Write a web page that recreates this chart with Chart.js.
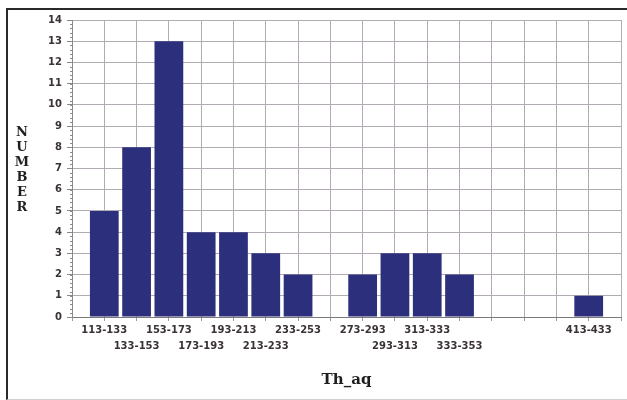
<!DOCTYPE html>
<html>
<head>
<meta charset="utf-8">
<script src="https://cdn.jsdelivr.net/npm/chart.js@4/dist/chart.umd.min.js"></script>
<style>
  html, body { margin: 0; padding: 0; background: #fff; }
  #wrap { position: relative; width: 627px; height: 400px; overflow: hidden; }
  #frame { position: absolute; left: 6px; top: 8px; width: 700px; height: 389px;
           border-top: 2px solid #2a2a2a; border-left: 2px solid #2a2a2a;
           border-bottom: 1px solid #cfcfcf; pointer-events: none; }
  canvas { position: absolute; left: 0; top: 0; }
</style>
</head>
<body>
<div id="wrap">
  <canvas id="c" width="627" height="400"></canvas>
  <div id="frame"></div>
</div>
<script>
// Th_aq class intervals and how many samples fall in each
const binRanges = ['113-133','133-153','153-173','173-193','193-213','213-233','233-253','253-273',
                   '273-293','293-313','313-333','333-353','353-373','373-393','393-413','413-433'];
const counts    = [5, 8, 13, 4, 4, 3, 2, 0, 2, 3, 3, 2, 0, 0, 0, 1];
// which text row each interval label sits on (0 = label not printed)
const labelRow  = [1, 2, 1, 2, 1, 2, 1, 0, 1, 2, 1, 2, 0, 0, 0, 1];
const yTicks    = { min: 0, max: 14, step: 1 };

const xTitle = 'Th_aq';
const yTitle = 'NUMBER';

// one empty slot on each side so the bins sit one grid step inside the frame
const labels = [''].concat(binRanges, ['']);
const values = [null].concat(counts, [null]);
const rows   = [0].concat(labelRow, [0]);

const tickFont = { family: 'DejaVu Sans', size: 10, weight: 'bold', lineHeight: 1.6 };
const gridColor = '#b3abb4';

// vertical axis title, one letter under another, plus the fine ticks on the value axis
const decorations = {
  id: 'decorations',
  afterDraw(chart) {
    const ctx = chart.ctx;
    const y = chart.scales.y;
    ctx.save();
    ctx.strokeStyle = '#8a8a8a';
    ctx.lineWidth = 1;
    for (let v = yTicks.min; v <= yTicks.max + 1e-9; v += 0.2) {
      const py = Math.round(y.getPixelForValue(v)) + 0.5;
      ctx.beginPath();
      ctx.moveTo(y.right - 2, py);
      ctx.lineTo(y.right, py);
      ctx.stroke();
    }
    ctx.fillStyle = '#1e1e1e';
    ctx.font = 'bold 13px "DejaVu Serif"';
    ctx.textAlign = 'center';
    ctx.textBaseline = 'middle';
    const letters = yTitle.split('');
    letters.forEach((ch, i) => ctx.fillText(ch, 22, 133 + i * 15));
    ctx.restore();
  }
};

new Chart(document.getElementById('c'), {
  type: 'bar',
  data: {
    labels: labels,
    datasets: [{
      data: values,
      backgroundColor: '#2c2f7c',
      borderWidth: 0,
      categoryPercentage: 1,
      barPercentage: 0.89
    }]
  },
  options: {
    responsive: false,
    devicePixelRatio: 1,
    animation: false,
    layout: { padding: { left: 0, right: 6, top: 20, bottom: 0 } },
    plugins: { legend: { display: false }, tooltip: { enabled: false } },
    scales: {
      x: {
        type: 'category',
        offset: false,
        grid: { offset: false, color: gridColor, tickLength: 4, tickColor: '#9a9a9a' },
        border: { color: '#7a7a7a', width: 1 },
        ticks: {
          autoSkip: false,
          maxRotation: 0,
          padding: 1,
          color: '#3a3333',
          font: tickFont,
          callback: function (val, i) {
            const r = rows[i];
            if (r === 1) return [labels[i]];
            if (r === 2) return ['', labels[i]];
            return '';
          }
        },
        title: {
          display: true,
          text: xTitle,
          color: '#1e1e1e',
          font: { family: 'DejaVu Serif', size: 15, weight: 'bold' },
          padding: { top: 0, bottom: 11 }
        },
        afterFit: s => { s.height = 83; }
      },
      y: {
        min: yTicks.min,
        max: yTicks.max,
        grid: { color: gridColor, tickLength: 5, tickColor: '#8a8a8a' },
        border: { color: '#8a8a8a', width: 1 },
        ticks: {
          stepSize: yTicks.step,
          padding: 5,
          color: '#3a3333',
          font: { family: 'DejaVu Sans', size: 10, weight: 'bold' }
        },
        afterFit: s => { s.width = 72; }
      }
    }
  },
  plugins: [decorations]
});
</script>
</body>
</html>
